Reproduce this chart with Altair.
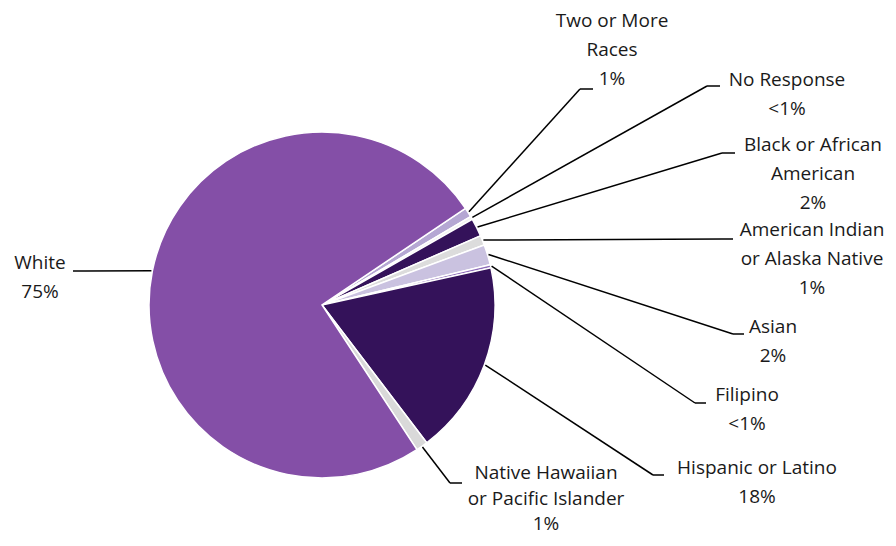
import math
import altair as alt
import pandas as pd

# ---- data ----
categories = ["Two or More Races", "No Response", "Black or African American",
              "American Indian or Alaska Native", "Asian", "Filipino",
              "Hispanic or Latino", "Native Hawaiian or Pacific Islander", "White"]
values = [0.9, 0.3, 1.7, 0.9, 1.9, 0.3, 18.1, 1.1, 74.8]
pct_labels = ["1%", "<1%", "2%", "1%", "2%", "<1%", "18%", "1%", "75%"]
label_lines = ["Two or More\nRaces", "No Response", "Black or African\nAmerican",
               "American Indian\nor Alaska Native", "Asian", "Filipino",
               "Hispanic or Latino", "Native Hawaiian\nor Pacific Islander", "White"]
colors = ["#b5a7d3", "#f2f2f2", "#34125a", "#dcdcdc", "#cac2e0", "#8d6bb8",
          "#34125a", "#d9d9d9", "#844fa7"]

# ---- layout (page pixels) ----
M = 8
CX, CY, R = 322 - M, 305 - M, 173
START = math.radians(56)
# label centre x, first line y, line spacing, elbow x, elbow y, stub end x
layout = [
    (612, 21, 29, 580, 89, 593),
    (787, 80, 29, 707, 86, 720),
    (813, 145, 29, 722, 153, 735),
    (812, 230, 29, 722, 239, 733),
    (773, 327, 29, 733, 334, 744),
    (747, 395, 29, 695, 403, 706),
    (757, 468, 29, 653, 475, 664),
    (546, 473, 25.5, 450, 483, 462),
    (40, 263, 29, 85, 271, 73),
]

df = pd.DataFrame({
    "category": categories,
    "value": values,
    "order": list(range(len(categories))),
    "ex": [l[3] - M for l in layout],
    "ey": [l[4] - M for l in layout],
    "sx": [l[5] - M for l in layout],
})

rows = []
for i, (name, pct) in enumerate(zip(label_lines, pct_labels)):
    lines = name.split("\n") + [pct]
    for j, t in enumerate(lines):
        rows.append({"text": t, "tx": layout[i][0] - M,
                     "ty": layout[i][1] - M + j * layout[i][2]})
tdf = pd.DataFrame(rows)

base = alt.Chart(df)

arcs = base.mark_arc(radius=R, stroke="white", strokeWidth=1.5).encode(
    theta=alt.Theta("value:Q", stack=True,
                    scale=alt.Scale(range=[START, START + 2 * math.pi])),
    order=alt.Order("order:Q", sort="ascending"),
    color=alt.Color("category:N", scale=alt.Scale(domain=categories, range=colors), legend=None),
    x=alt.value(CX), y=alt.value(CY),
)

geo = base.transform_joinaggregate(total="sum(value)").transform_window(
    cum="sum(value)", sort=[alt.SortField("order", order="ascending")], frame=[None, 0]
).transform_calculate(
    mid=f"{START} + 2*PI*(datum.cum - datum.value/2)/datum.total"
).transform_calculate(
    x0=f"{CX} + {R + 1}*sin(datum.mid)",
    y0=f"{CY} - {R + 1}*cos(datum.mid)",
)

leaders = geo.mark_rule(color="black", strokeWidth=1.5).encode(
    x=alt.X("x0:Q", scale=None), y=alt.Y("y0:Q", scale=None),
    x2="ex:Q", y2="ey:Q",
)
stubs = base.mark_rule(color="black", strokeWidth=1.5).encode(
    x=alt.X("ex:Q", scale=None), y=alt.Y("ey:Q", scale=None),
    x2="sx:Q", y2="ey:Q",
)

texts = alt.Chart(tdf).mark_text(font="Open Sans", fontSize=19, color="#1a1a1a",
                                 align="center", baseline="middle").encode(
    x=alt.X("tx:Q", scale=None), y=alt.Y("ty:Q", scale=None), text="text:N",
)

chart = alt.layer(arcs, leaders, stubs, texts).properties(
    width=880, height=530, padding=0, autosize="none"
).configure_view(stroke=None)

chart.save("out.html", embed_options={"renderer": "svg", "actions": False})
